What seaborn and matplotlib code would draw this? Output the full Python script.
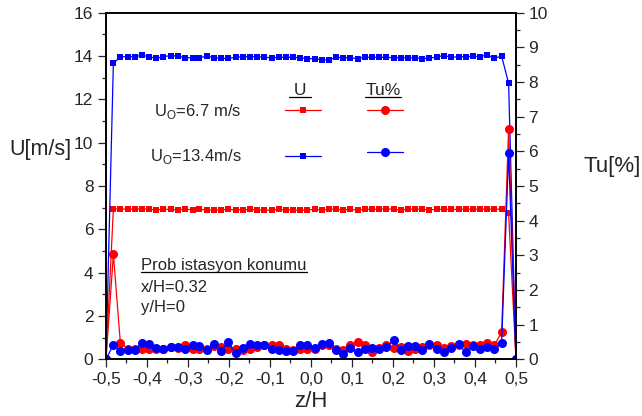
import numpy as np
import matplotlib
matplotlib.use("Agg")
import matplotlib.pyplot as plt
from matplotlib.lines import Line2D
import seaborn as sns

# measurement positions across the channel, z/H
z = [-0.500, -0.482, -0.465, -0.447, -0.430, -0.412, -0.395, -0.377, -0.360, -0.342,
     -0.325, -0.307, -0.289, -0.272, -0.254, -0.237, -0.219, -0.202, -0.184, -0.167,
     -0.149, -0.132, -0.114, -0.096, -0.079, -0.061, -0.044, -0.026, -0.009, 0.009,
     0.026, 0.044, 0.061, 0.079, 0.096, 0.114, 0.132, 0.149, 0.167, 0.184,
     0.202, 0.219, 0.237, 0.254, 0.272, 0.289, 0.307, 0.325, 0.342, 0.360,
     0.377, 0.395, 0.412, 0.430, 0.447, 0.465, 0.482, 0.500]

# mean velocity U [m/s]
u_67 = [0, 6.93, 6.95, 6.92, 6.93, 6.95, 6.92, 6.90, 6.93, 6.92,
        6.90, 6.93, 6.90, 6.92, 6.90, 6.88, 6.90, 6.92, 6.90, 6.90,
        6.92, 6.90, 6.88, 6.90, 6.92, 6.90, 6.90, 6.88, 6.90, 6.92,
        6.90, 6.92, 6.93, 6.90, 6.92, 6.90, 6.92, 6.93, 6.92, 6.95,
        6.92, 6.90, 6.92, 6.93, 6.92, 6.90, 6.92, 6.93, 6.92, 6.92,
        6.93, 6.92, 6.93, 6.92, 6.93, 6.93, 6.74, 0]
u_134 = [0, 13.66, 13.97, 13.97, 13.97, 14.03, 13.97, 13.89, 13.97, 14.02,
         13.99, 13.92, 13.92, 13.92, 14.00, 13.92, 13.89, 13.89, 13.94, 13.97,
         13.97, 13.97, 13.94, 13.92, 13.94, 13.94, 13.94, 13.92, 13.88, 13.88,
         13.83, 13.83, 13.94, 13.92, 13.92, 13.88, 13.95, 13.94, 13.94, 13.94,
         13.92, 13.92, 13.92, 13.91, 13.88, 13.89, 13.97, 14.02, 13.94, 13.97,
         13.97, 13.99, 13.97, 14.05, 13.89, 14.00, 12.74, 0]

# turbulence intensity Tu [%]
tu_67 = [0, 3.03, 0.48, 0.31, 0.29, 0.31, 0.29, 0.31, 0.31, 0.36,
         0.34, 0.42, 0.31, 0.29, 0.29, 0.38, 0.36, 0.31, 0.31, 0.26,
         0.29, 0.36, 0.40, 0.42, 0.40, 0.31, 0.26, 0.31, 0.29, 0.29,
         0.42, 0.40, 0.31, 0.28, 0.40, 0.50, 0.42, 0.21, 0.33, 0.42,
         0.33, 0.36, 0.24, 0.29, 0.36, 0.42, 0.40, 0.33, 0.38, 0.40,
         0.45, 0.42, 0.42, 0.47, 0.40, 0.78, 6.64, 0]
tu_134 = [0, 0.42, 0.25, 0.26, 0.28, 0.47, 0.45, 0.33, 0.31, 0.36,
          0.36, 0.31, 0.40, 0.39, 0.26, 0.43, 0.25, 0.50, 0.18, 0.34,
          0.45, 0.42, 0.40, 0.31, 0.28, 0.24, 0.24, 0.42, 0.40, 0.33,
          0.45, 0.48, 0.26, 0.14, 0.33, 0.21, 0.29, 0.33, 0.31, 0.36,
          0.55, 0.28, 0.38, 0.38, 0.28, 0.45, 0.31, 0.21, 0.34, 0.43,
          0.21, 0.38, 0.31, 0.36, 0.29, 0.47, 5.94, 0]

xticks = [-0.5, -0.4, -0.3, -0.2, -0.1, 0.0, 0.1, 0.2, 0.3, 0.4, 0.5]
xtick_labels = ["-0,5", "-0,4", "-0,3", "-0,2", "-0,1", "0,0", "0,1", "0,2", "0,3", "0,4", "0,5"]
series_labels = ["U$_\\mathregular{O}$=6.7 m/s", "U$_\\mathregular{O}$=13.4m/s"]

sns.set_theme(style="ticks")
plt.rcParams["font.family"] = ["Liberation Sans", "DejaVu Sans"]
plt.rcParams["mathtext.fontset"] = "custom"
plt.rcParams["mathtext.rm"] = "Liberation Sans"

fig = plt.figure(figsize=(6.42, 4.16), dpi=100)
ax = fig.add_axes([0.1651, 0.1363, 0.6386, 0.8332])
ax2 = ax.twinx()

line_kw = dict(linewidth=0.9, sort=False, estimator=None, markeredgewidth=0)
sns.lineplot(x=z, y=u_67, ax=ax, color="#ff0000", marker="s", markersize=5, **line_kw)
sns.lineplot(x=z, y=u_134, ax=ax, color="#0000ff", marker="s", markersize=5, **line_kw)
sns.lineplot(x=z, y=tu_67, ax=ax2, color="#ff0000", marker="o", markersize=6.5, **line_kw)
sns.lineplot(x=z, y=tu_134, ax=ax2, color="#0000ff", marker="o", markersize=6.5, **line_kw)

ax.set_xlim(-0.5, 0.5)
ax.set_ylim(0, 16)
ax2.set_ylim(0, 10)
ax.set_xticks(xticks, labels=xtick_labels)
ax.set_xticks(np.arange(-0.45, 0.5, 0.1), minor=True)
ax.set_yticks(range(0, 17, 2))
ax.set_yticks(range(1, 16, 2), minor=True)
ax2.set_yticks(range(0, 11))
ax2.set_yticks(np.arange(0.5, 10, 1), minor=True)

for a in (ax, ax2):
    a.tick_params(which="major", direction="out", length=6, width=0.9, labelsize=12.5, pad=3)
    a.tick_params(which="minor", direction="out", length=3, width=0.9)
    for s in a.spines.values():
        s.set_linewidth(1.2)
        s.set_color("black")
ax.tick_params(top=False, which="both")

ax.set_xlabel("z/H", fontsize=16, labelpad=3)
ax.set_ylabel("U[m/s]", fontsize=15.5, rotation=0, ha="center", va="center")
ax.yaxis.set_label_coords(-0.159, 0.604)
ax2.set_ylabel("Tu[%]", fontsize=16, rotation=0, ha="center", va="center")
ax2.yaxis.set_label_coords(1.234, 0.555)

handles = [ax.lines[0], ax.lines[1], ax2.lines[0], ax2.lines[1]]
ax2.legend(handles, series_labels + ["", ""], ncol=2, markerfirst=False, frameon=False,
           fontsize=12, handlelength=2.16, handletextpad=2.57, columnspacing=0.19,
           labelspacing=1.6, loc="center left", bbox_to_anchor=(0.107, 0.650),
           borderpad=0, borderaxespad=0)

notes = []
notes.append(ax2.text(0.473, 0.763, " U ", transform=ax2.transAxes, fontsize=12.5,
                      ha="center", va="baseline"))
notes.append(ax2.text(0.6756, 0.763, "Tu%", transform=ax2.transAxes, fontsize=12.5,
                      ha="center", va="baseline"))
notes.append(ax2.text(0.0854, 0.259, "Prob istasyon konumu", transform=ax2.transAxes,
                      fontsize=12, ha="left", va="baseline"))
ax2.text(0.0854, 0.194, "x/H=0.32", transform=ax2.transAxes, fontsize=12, va="baseline")
ax2.text(0.0854, 0.136, "y/H=0", transform=ax2.transAxes, fontsize=12, va="baseline")

# underline the header texts
renderer = fig.canvas.get_renderer()
W, H = fig.bbox.width, fig.bbox.height
for t in notes:
    bb = t.get_window_extent(renderer)
    base = t.get_transform().transform(t.get_position())[1] - 2
    fig.add_artist(Line2D([bb.x0 / W, bb.x1 / W], [base / H, base / H],
                          transform=fig.transFigure, color="black", linewidth=0.9))

fig.savefig("out.png", dpi=100)
